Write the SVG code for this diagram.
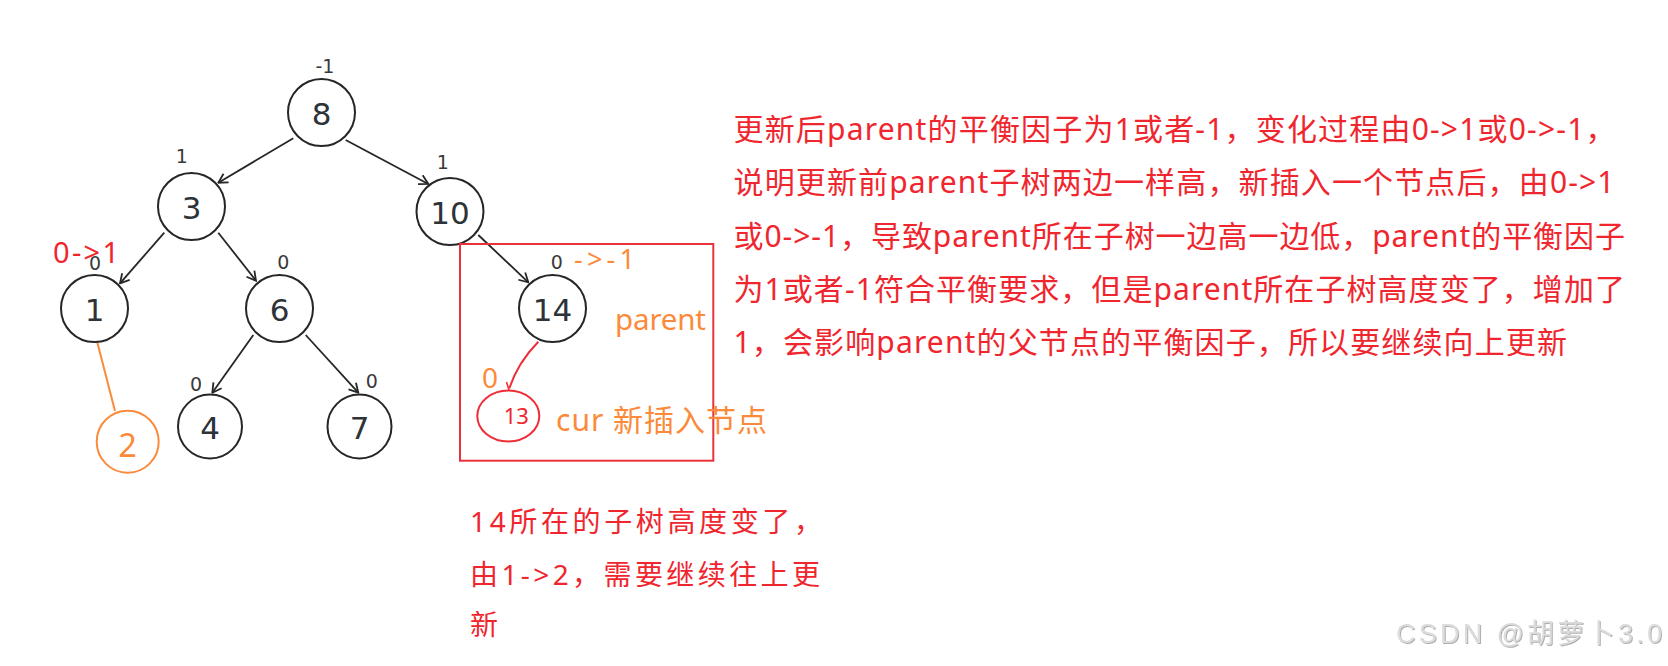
<svg xmlns="http://www.w3.org/2000/svg" width="1668" height="666" viewBox="0 0 1668 666">
<style>
.node{fill:#fff;stroke:#262626;stroke-width:2}
.nlabel{font-family:"DejaVu Sans",sans-serif;font-size:31px;fill:#2e3338;text-anchor:middle}
.bf{font-family:"DejaVu Sans",sans-serif;font-size:19px;fill:#3a3a3a;text-anchor:middle}
.edge{stroke:#262626;stroke-width:1.8;fill:none}
.red{fill:#f0262f}
.orange{fill:#fb8a3a}
.ann{font-family:"Noto Sans","Noto Sans CJK SC",sans-serif}
.para{font-family:"Noto Sans","Noto Sans CJK SC",sans-serif;font-size:30px;fill:#f0262f}
.note{font-family:"Noto Sans","Noto Sans CJK SC",sans-serif;font-size:28px;fill:#f0262f}
</style>
<defs>
<marker id="arrow" viewBox="-11 -6 12 12" refX="0" refY="0" markerWidth="12" markerHeight="12" markerUnits="userSpaceOnUse" orient="auto">
<path d="M-9,-5 L0,0 L-9,5" fill="none" stroke="#262626" stroke-width="1.8"/>
</marker>
<filter id="emboss" x="-5%" y="-20%" width="110%" height="140%">
<feDropShadow dx="1" dy="1" stdDeviation="0.6" flood-color="#9a9a9a" flood-opacity="0.8"/>
</filter>
</defs>
<rect width="1668" height="666" fill="#fff"/>

<g id="connectors">
<line class="edge" x1="293.3" y1="138.3" x2="218.3" y2="182.7" marker-end="url(#arrow)"/>
<line class="edge" x1="345.7" y1="140" x2="428.3" y2="184" marker-end="url(#arrow)"/>
<line class="edge" x1="164.3" y1="232.7" x2="120" y2="283.3" marker-end="url(#arrow)"/>
<line class="edge" x1="218.3" y1="232.7" x2="256" y2="280.7" marker-end="url(#arrow)"/>
<line class="edge" x1="253.3" y1="335" x2="212.3" y2="392.7" marker-end="url(#arrow)"/>
<line class="edge" x1="305.7" y1="335" x2="358.3" y2="392.7" marker-end="url(#arrow)"/>
<line class="edge" x1="478.3" y1="235" x2="528.3" y2="282.3" marker-end="url(#arrow)"/>
<line x1="96.7" y1="340" x2="115" y2="411" stroke="#fb8a3a" stroke-width="2"/>
<path d="M538.3,341.7 Q517.5,363 509.3,388.3" fill="none" stroke="#ee2d36" stroke-width="2"/>
<path d="M506.5,382 L509,390" fill="none" stroke="#ee2d36" stroke-width="1.6"/>
</g>

<g id="node-8"><circle class="node" cx="321.5" cy="112.5" r="33.5"/><text class="nlabel" x="321.5" y="124.5">8</text><text class="bf" x="325" y="73">-1</text></g>
<g id="node-3"><circle class="node" cx="191.5" cy="206.5" r="33.5"/><text class="nlabel" x="191.5" y="218.5">3</text><text class="bf" x="181.7" y="163">1</text></g>
<g id="node-10"><circle class="node" cx="450" cy="211.5" r="33.5"/><text class="nlabel" x="450" y="223.5">10</text><text class="bf" x="442.7" y="169">1</text></g>
<g id="node-1"><circle class="node" cx="94.5" cy="308.5" r="33.5"/><text class="nlabel" x="94.5" y="320.5">1</text><text class="bf" x="95" y="270">0</text></g>
<g id="node-6"><circle class="node" cx="279.5" cy="308.5" r="33.5"/><text class="nlabel" x="279.5" y="320.5">6</text><text class="bf" x="283.3" y="269">0</text></g>
<g id="node-14"><circle class="node" cx="552.5" cy="308.5" r="33.5"/><text class="nlabel" x="552.5" y="320.5">14</text><text class="bf" x="556.7" y="269">0</text></g>
<g id="node-4"><circle class="node" cx="210" cy="426.5" r="32"/><text class="nlabel" x="210" y="438.5">4</text><text class="bf" x="196" y="390.7">0</text></g>
<g id="node-7"><circle class="node" cx="359.5" cy="426.5" r="32"/><text class="nlabel" x="359.5" y="438.5">7</text><text class="bf" x="371.7" y="388">0</text></g>
<g id="node-2"><circle cx="127.7" cy="441.7" r="31" fill="none" stroke="#fb8a3a" stroke-width="2"/><text class="ann orange" x="127.7" y="456.7" font-size="32" text-anchor="middle">2</text></g>
<g id="node-13"><ellipse cx="508.3" cy="416" rx="31" ry="25.5" fill="none" stroke="#ee2d36" stroke-width="2"/><text class="ann red" x="516.3" y="424" font-size="22" text-anchor="middle">13</text></g>

<g id="annotations">
<text class="ann red" x="53" y="263" font-size="29" textLength="66">0-&gt;1</text>
<rect x="460" y="244" width="253.3" height="216.7" fill="none" stroke="#e8333c" stroke-width="2"/>
<text class="ann orange" x="574" y="269" font-size="27" textLength="61">-&gt;-1</text>
<text class="ann orange" x="615" y="330" font-size="29.5" textLength="91">parent</text>
<text class="ann orange" x="482" y="388" font-size="28">0</text>
<text class="ann orange" x="556" y="430.7" font-size="30" textLength="211">cur 新插入节点</text>
</g>

<g id="explanation">
<text class="para" x="733.5" y="139.5" textLength="882">更新后parent的平衡因子为1或者-1，变化过程由0-&gt;1或0-&gt;-1，</text>
<text class="para" x="733.5" y="193" textLength="881">说明更新前parent子树两边一样高，新插入一个节点后，由0-&gt;1</text>
<text class="para" x="733.5" y="246.5" textLength="891.5">或0-&gt;-1，导致parent所在子树一边高一边低，parent的平衡因子</text>
<text class="para" x="733.5" y="300" textLength="891.5">为1或者-1符合平衡要求，但是parent所在子树高度变了，增加了</text>
<text class="para" x="733.5" y="353" textLength="833.5">1，会影响parent的父节点的平衡因子，所以要继续向上更新</text>
</g>

<g id="note-14">
<text class="note" x="470" y="532" textLength="352">14所在的子树高度变了，</text>
<text class="note" x="470" y="585" textLength="350">由1-&gt;2，需要继续往上更</text>
<text class="note" x="470" y="635">新</text>
</g>

<text x="1396" y="643" font-family="'Liberation Sans','Noto Sans CJK SC',sans-serif" font-size="27" fill="#dcdcdc" filter="url(#emboss)" textLength="266">CSDN @胡萝卜3.0</text>
</svg>
